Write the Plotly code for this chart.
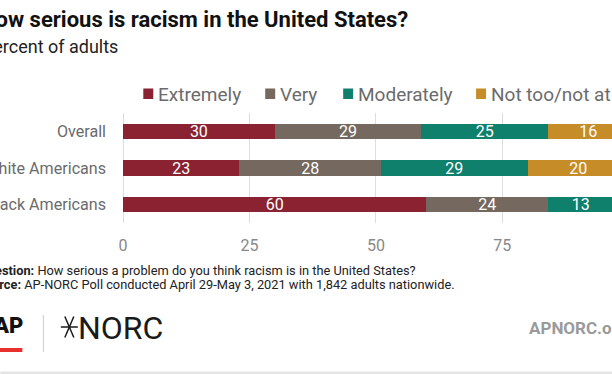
import plotly.graph_objects as go

# ---- data ----
categories = ["Overall", "White Americans", "Black Americans"]
series_names = ["Extremely", "Very", "Moderately", "Not too/not at all"]
extremely = [30, 23, 60]
very = [29, 28, 24]
moderately = [25, 29, 13]
not_too = [16, 20, 3]
x_ticks = [0, 25, 50, 75, 100]

title_text = "How serious is racism in the United States?"
subtitle_text = "Percent of adults"
question_text = "<b>Question:</b> How serious a problem do you think racism is in the United States?"
source_text = "<b>Source:</b> AP-NORC Poll conducted April 29-May 3, 2021 with 1,842 adults nationwide."

# ---- style ----
colors = ["#8a2232", "#75685f", "#0f806c", "#c68c28"]
FONT = "Roboto"
W, H = 612, 374
PLOT_LEFT, PLOT_TOP, PLOT_BOTTOM = 122.7, 113, 223
L = PLOT_LEFT
T = PLOT_TOP
B = H - PLOT_BOTTOM
R = 0
PW = W - L - R
PH = H - T - B
PX_PER_UNIT = 5.061


def px(x):
    return (x - L) / PW


def py(y):
    return (PLOT_BOTTOM - y) / PH


values = [extremely, very, moderately, not_too]

fig = go.Figure()
for name, vals, col in zip(series_names, values, colors):
    fig.add_trace(go.Bar(
        y=categories, x=vals, name=name, orientation="h",
        marker=dict(color=col, line=dict(width=0)),
        text=[str(v) for v in vals], textposition="inside",
        insidetextanchor="middle", textangle=0, constraintext="none",
        textfont=dict(color="white", size=16, family=FONT),
        showlegend=False, hoverinfo="skip",
    ))

annotations = []
shapes = []

# title / subtitle (left edge cropped like the reference)
annotations.append(dict(text=title_text, x=px(410), y=py(19.5), xref="paper", yref="paper",
                        xanchor="right", yanchor="middle", showarrow=False,
                        font=dict(family=FONT, size=22, color="#111111", weight=700)))
annotations.append(dict(text=subtitle_text, x=px(120), y=py(46), xref="paper", yref="paper",
                        xanchor="right", yanchor="middle", showarrow=False,
                        font=dict(family=FONT, size=18, color="#222222")))

# legend built from series names/colours
legend_text_x = [158, 280, 358, 491]
for name, col, lx in zip(series_names, colors, legend_text_x):
    shapes.append(dict(type="rect", xref="paper", yref="paper",
                       x0=px(lx - 15), x1=px(lx - 5), y0=py(99), y1=py(88.5),
                       fillcolor=col, line=dict(width=0)))
    annotations.append(dict(text=name, x=px(lx - 2), y=py(94), xref="paper", yref="paper",
                            xanchor="left", yanchor="middle", showarrow=False,
                            font=dict(family=FONT, size=19, color="#6b6b6b")))

# footnotes
annotations.append(dict(text=question_text, x=px(418), y=py(270), xref="paper", yref="paper",
                        xanchor="right", yanchor="middle", showarrow=False,
                        font=dict(family=FONT, size=12.8, color="#222222")))
annotations.append(dict(text=source_text, x=px(457), y=py(284.5), xref="paper", yref="paper",
                        xanchor="right", yanchor="middle", showarrow=False,
                        font=dict(family=FONT, size=12.8, color="#222222")))

# logos
annotations.append(dict(text="AP", x=px(25), y=py(325), xref="paper", yref="paper",
                        xanchor="right", yanchor="middle", showarrow=False,
                        font=dict(family=FONT, size=22, color="#111111", weight=900)))
shapes.append(dict(type="rect", xref="paper", yref="paper", x0=px(-5), x1=px(22),
                   y0=py(352), y1=py(348), fillcolor="#e8302e", line=dict(width=0)))
shapes.append(dict(type="line", xref="paper", yref="paper", x0=px(43), x1=px(43),
                   y0=py(315), y1=py(352), line=dict(color="#cccccc", width=1)))
cx, cy = 69, 327
for dx, dy in [(8.5, 0), (4.5, 10.5), (-4.5, 10.5)]:
    shapes.append(dict(type="line", xref="paper", yref="paper",
                       x0=px(cx - dx), x1=px(cx + dx), y0=py(cy - dy), y1=py(cy + dy),
                       line=dict(color="#1a1a1a", width=1.5)))
annotations.append(dict(text="NORC", x=px(76), y=py(327.5), xref="paper", yref="paper",
                        xanchor="left", yanchor="middle", showarrow=False,
                        font=dict(family=FONT, size=32, color="#1a1a1a")))
annotations.append(dict(text="APNORC.org", x=px(527), y=py(328), xref="paper", yref="paper",
                        xanchor="left", yanchor="middle", showarrow=False,
                        font=dict(family=FONT, size=17, color="#9a9a9a", weight=700)))
shapes.append(dict(type="rect", xref="paper", yref="paper", x0=px(0), x1=px(620),
                   y0=py(374), y1=py(371.5), fillcolor="#e4e4e4", line=dict(width=0)))

fig.update_layout(
    width=W, height=H,
    margin=dict(l=L, r=R, t=T, b=B, pad=0, autoexpand=False),
    barmode="stack", bargap=0.59,
    paper_bgcolor="white", plot_bgcolor="white",
    showlegend=False,
    xaxis=dict(range=[0, PW / PX_PER_UNIT], tickvals=x_ticks, ticktext=[str(v) for v in x_ticks],
               automargin=False,
               showgrid=True, gridcolor="#dddddd", gridwidth=1,
               zeroline=True, zerolinecolor="#dddddd", zerolinewidth=1,
               showline=False, ticks="", ticklabelstandoff=11,
               tickfont=dict(family=FONT, size=16, color="#888888")),
    yaxis=dict(categoryorder="array", categoryarray=categories, range=[2.5, -0.5],
               automargin=False,
               showgrid=False, zeroline=False, showline=False, ticks="",
               ticklabelstandoff=16,
               tickfont=dict(family=FONT, size=16.1, color="#6b6b6b")),
    annotations=annotations, shapes=shapes,
    font=dict(family=FONT),
)

fig.write_html("out.html", config={"displayModeBar": False},
               post_script="document.body.style.margin='0';document.body.style.overflow='hidden';")
